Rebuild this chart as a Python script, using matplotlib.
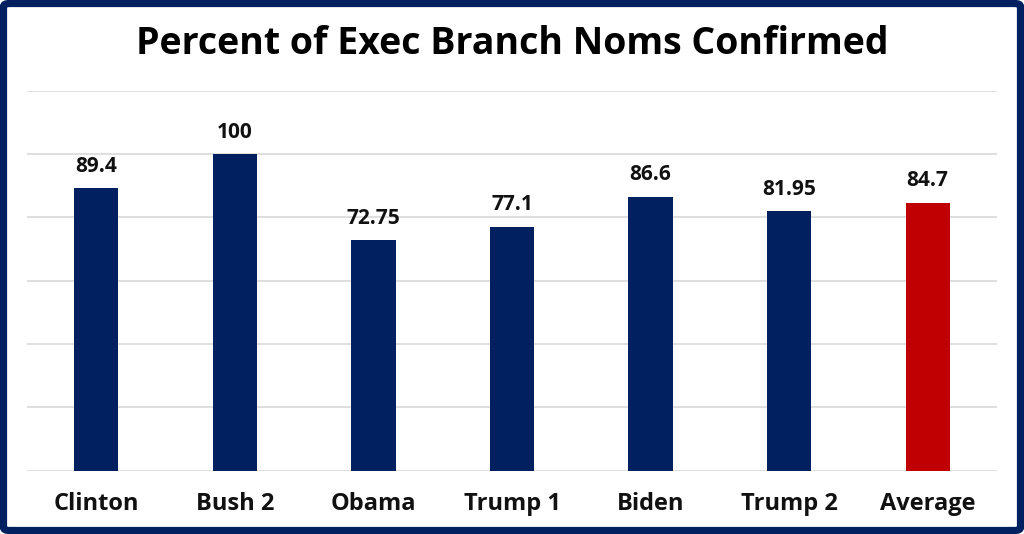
import matplotlib
matplotlib.use("Agg")
import matplotlib.pyplot as plt
from matplotlib.patches import FancyBboxPatch

categories = ["Clinton", "Bush 2", "Obama", "Trump 1", "Biden", "Trump 2", "Average"]
values = [89.4, 100, 72.75, 77.1, 86.6, 81.95, 84.7]
value_labels = ["89.4", "100", "72.75", "77.1", "86.6", "81.95", "84.7"]
colors = ["#002060"] * 6 + ["#C00000"]
title = "Percent of Exec Branch Noms Confirmed"

plt.rcParams['font.family'] = ['Open Sans', 'DejaVu Sans']

fig = plt.figure(figsize=(10.24, 5.34), dpi=100)
ax = fig.add_axes([0.0264, 0.1185, 0.9472, 0.7115])

x = range(len(categories))
bars = ax.bar(x, values, width=0.32, color=colors, zorder=3)
ax.set_xlim(-0.5, len(categories) - 0.5)
ax.set_ylim(0, 120)
ax.set_yticks(range(0, 121, 20))
ax.yaxis.grid(True, color="#D9D9D9", linewidth=1.2, zorder=0)
ax.tick_params(axis="y", left=False, labelleft=False)
ax.tick_params(axis="x", bottom=False, pad=12)
ax.set_xticks(list(x))
ax.set_xticklabels(categories, fontsize=17, fontweight="bold", color="#111111")
for s in ax.spines.values():
    s.set_visible(False)

for xi, v, lab in zip(x, values, value_labels):
    ax.annotate(lab, (xi, v), xytext=(0, 8), textcoords="offset points",
                ha="center", va="bottom", fontsize=15, fontweight="bold", color="#111111")

fig.text(0.5, 0.918, title, ha="center", va="center", fontsize=27, fontweight="bold", color="#000000")

border = FancyBboxPatch((3.5 / 1024, 3.5 / 534), 1 - 7 / 1024, 1 - 7 / 534,
                        boxstyle="round,pad=0,rounding_size=0.006",
                        transform=fig.transFigure, fill=False,
                        edgecolor="#002060", linewidth=5.2, zorder=10)
fig.patches.append(border)

fig.savefig("out.png", dpi=100)
